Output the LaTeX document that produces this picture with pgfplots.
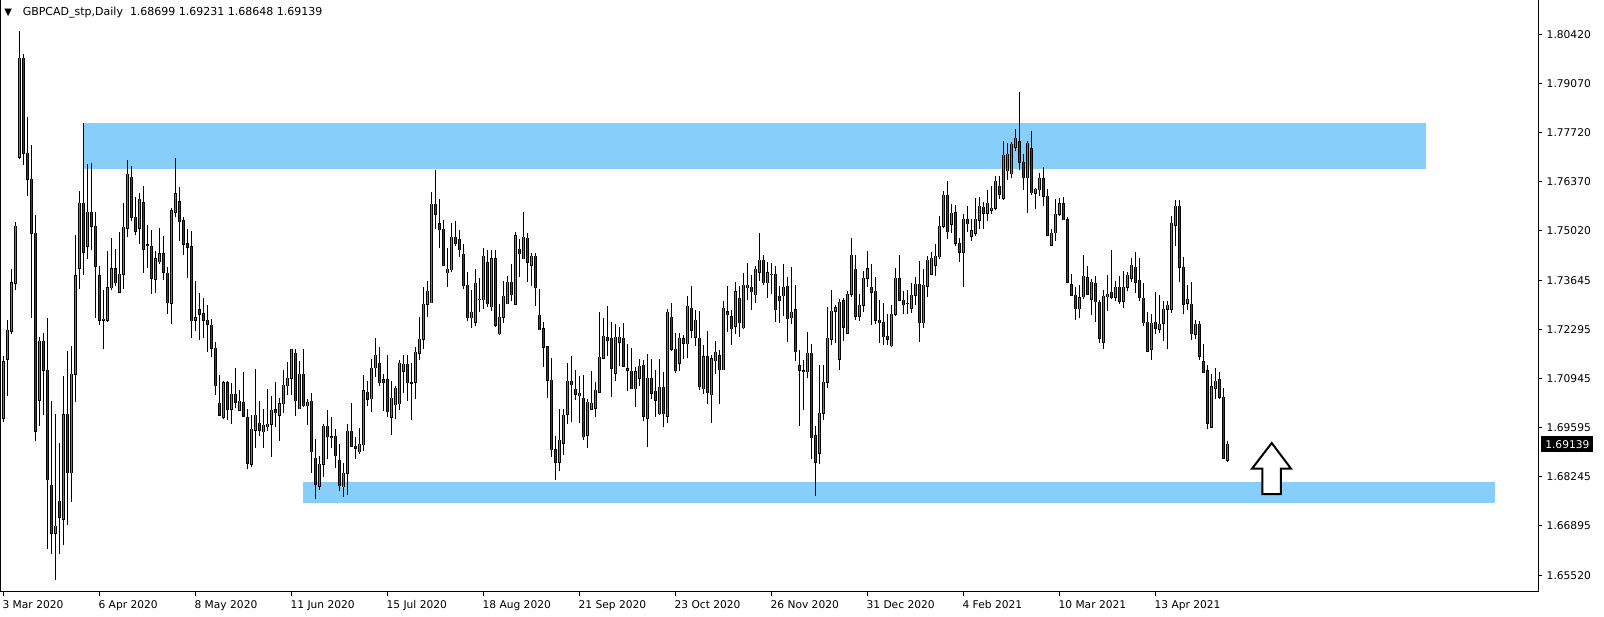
\documentclass[border=0pt]{standalone}
\usepackage{fontspec}
\setmainfont{DejaVu Sans}
\usepackage{pgfplots}
\usepackage{pgfplotstable}
\pgfplotsset{compat=1.18}
\definecolor{zoneblue}{RGB}{135,206,250}
\definecolor{bull}{RGB}{0,205,0}
\definecolor{bear}{RGB}{215,0,0}
\pgfplotstableread{
i o h l c
0 1.69862 1.71583 1.69764 1.71416
1 1.71485 1.72567 1.70482 1.72281
2 1.72252 1.73973 1.72173 1.73599
3 1.73580 1.75261 1.73403 1.75143
4 1.77051 1.80523 1.76992 1.79776
5 1.79776 1.79894 1.76845 1.77160
6 1.77160 1.78153 1.75989 1.76442
7 1.76442 1.77386 1.72616 1.74957
8 1.74957 1.75458 1.69223 1.69498
9 1.70354 1.72095 1.69646 1.71976
10 1.71976 1.72222 1.69960 1.71180
11 1.71180 1.72616 1.66272 1.68171
12 1.68013 1.70324 1.66125 1.66695
13 1.66695 1.69980 1.65407 1.66882
14 1.67570 1.69193 1.66125 1.67138
15 1.67089 1.71023 1.66371 1.69950
16 1.69970 1.71711 1.66931 1.68367
17 1.68367 1.71849 1.67551 1.71072
18 1.71072 1.74907 1.70305 1.73776
19 1.73993 1.76117 1.73432 1.75783
20 1.75783 1.77986 1.73815 1.74435
21 1.74593 1.76865 1.74258 1.75527
22 1.75527 1.76894 1.74484 1.75143
23 1.75143 1.75537 1.72635 1.74042
24 1.73776 1.74042 1.72419 1.72567
25 1.72567 1.73383 1.71760 1.72586
26 1.72567 1.74465 1.72517 1.73452
27 1.73452 1.74829 1.73383 1.73973
28 1.73973 1.74534 1.73501 1.73599
29 1.73334 1.74976 1.73320 1.73825
30 1.73825 1.75783 1.73432 1.75124
31 1.75094 1.76973 1.74848 1.76579
32 1.76501 1.76815 1.75301 1.75389
33 1.75389 1.75940 1.74897 1.75006
34 1.75094 1.76058 1.74661 1.75891
35 1.75788 1.76256 1.73870 1.74512
36 1.74640 1.75182 1.74007 1.74620
37 1.74595 1.75045 1.73291 1.73714
38 1.73686 1.74466 1.73319 1.74246
39 1.74173 1.75091 1.74099 1.74384
40 1.74384 1.74870 1.73668 1.73879
41 1.73851 1.74026 1.72741 1.73044
42 1.73025 1.75641 1.72465 1.75568
43 1.75531 1.77027 1.75393 1.76036
44 1.75816 1.76229 1.74751 1.75274
45 1.75292 1.75393 1.74365 1.74650
46 1.74659 1.75072 1.73732 1.74567
47 1.74577 1.75017 1.72080 1.72548
48 1.72557 1.73640 1.72273 1.72621
49 1.72842 1.73310 1.72025 1.72722
50 1.72732 1.73172 1.72080 1.72557
51 1.72557 1.72979 1.71694 1.72447
52 1.72419 1.72594 1.71538 1.71786
53 1.71786 1.71970 1.70510 1.70758
54 1.70272 1.71043 1.69930 1.69941
55 1.69886 1.70887 1.69849 1.70832
56 1.70832 1.70887 1.69822 1.70106
57 1.70106 1.70832 1.69712 1.70519
58 1.70519 1.71235 1.70152 1.70308
59 1.70079 1.70639 1.70051 1.70327
60 1.70299 1.71134 1.69886 1.69914
61 1.69868 1.70106 1.68454 1.68619
62 1.68592 1.69941 1.68509 1.69556
63 1.69537 1.71217 1.69051 1.69941
64 1.69721 1.70327 1.69381 1.69537
65 1.69491 1.70106 1.69051 1.69666
66 1.69629 1.70666 1.69519 1.69693
67 1.69693 1.70474 1.68803 1.70079
68 1.70088 1.70850 1.69629 1.70015
69 1.69942 1.70410 1.69244 1.70254
70 1.70263 1.71190 1.70015 1.70768
71 1.70758 1.71410 1.70501 1.70960
72 1.70960 1.71770 1.70501 1.71759
73 1.71649 1.71759 1.69932 1.70345
74 1.70125 1.71438 1.70107 1.71071
75 1.71071 1.71759 1.70180 1.70208
76 1.70208 1.70382 1.69676 1.70299
77 1.70327 1.70556 1.68363 1.68941
78 1.68757 1.69290 1.67629 1.68041
79 1.67986 1.68822 1.67885 1.68592
80 1.68592 1.69703 1.68253 1.69639
81 1.69639 1.70079 1.68739 1.69354
82 1.69354 1.69896 1.69051 1.69340
83 1.69363 1.69565 1.68500 1.68831
84 1.68702 1.69152 1.67867 1.68005
85 1.67977 1.68638 1.67702 1.68344
86 1.68344 1.69694 1.67748 1.69501
87 1.69501 1.70281 1.69079 1.69097
88 1.69088 1.69336 1.68748 1.69033
89 1.68941 1.69584 1.68877 1.69143
90 1.69134 1.71052 1.68969 1.70612
91 1.70575 1.70887 1.70199 1.70382
92 1.70400 1.71493 1.70043 1.71236
93 1.71254 1.72071 1.71006 1.71594
94 1.71373 1.71823 1.70758 1.70841
95 1.70914 1.71080 1.70070 1.70841
96 1.70914 1.71594 1.69905 1.70043
97 1.69886 1.70878 1.69409 1.70410
98 1.70235 1.70740 1.69850 1.70685
99 1.70263 1.71465 1.70098 1.71373
100 1.71153 1.71603 1.70566 1.71346
101 1.71346 1.71603 1.70345 1.70841
102 1.70850 1.71373 1.69812 1.70822
103 1.70850 1.71814 1.70391 1.71676
104 1.71648 1.72649 1.71465 1.72034
105 1.72034 1.73475 1.71768 1.72998
106 1.72998 1.73640 1.72649 1.73356
107 1.73043 1.76082 1.73030 1.75751
108 1.75751 1.76700 1.75081 1.75476
109 1.75210 1.75898 1.74549 1.75054
110 1.75063 1.75320 1.74050 1.74062
111 1.73870 1.74540 1.73484 1.73961
112 1.73952 1.75237 1.73897 1.74843
113 1.74843 1.75283 1.74604 1.74668
114 1.74788 1.75035 1.74301 1.74503
115 1.74374 1.74650 1.73420 1.73512
116 1.73521 1.73888 1.72529 1.72630
117 1.72630 1.73392 1.72355 1.72777
118 1.72502 1.73971 1.72410 1.73576
119 1.73126 1.73714 1.72786 1.73140
120 1.73126 1.74540 1.72860 1.74319
121 1.74136 1.74485 1.72924 1.73016
122 1.72933 1.74494 1.72805 1.74246
123 1.74246 1.74485 1.72373 1.72429
124 1.72190 1.72998 1.72162 1.72640
125 1.72640 1.73631 1.72493 1.73218
126 1.73016 1.73787 1.72998 1.73603
127 1.73603 1.74108 1.73080 1.73264
128 1.73007 1.74989 1.72998 1.74879
129 1.74512 1.74806 1.73759 1.74393
130 1.74255 1.75540 1.74237 1.74843
131 1.74815 1.74971 1.73613 1.74154
132 1.74072 1.74402 1.73502 1.74319
133 1.74319 1.74402 1.72961 1.73457
134 1.72695 1.73429 1.72290 1.72300
135 1.72328 1.72520 1.71281 1.71814
136 1.71823 1.71850 1.70428 1.70905
137 1.70905 1.71529 1.68800 1.69000
138 1.69000 1.69381 1.68160 1.68650
139 1.68650 1.70116 1.68400 1.69253
140 1.69170 1.70116 1.68850 1.69941
141 1.69969 1.71382 1.69693 1.70877
142 1.70877 1.71566 1.69748 1.70786
143 1.70657 1.71190 1.70354 1.70519
144 1.70483 1.71015 1.69739 1.70547
145 1.70409 1.71043 1.69253 1.69354
146 1.69390 1.70400 1.69032 1.70299
147 1.70106 1.71162 1.70079 1.70272
148 1.70134 1.70850 1.69886 1.70630
149 1.70584 1.72787 1.70565 1.71538
150 1.71520 1.72621 1.71492 1.72117
151 1.72071 1.72952 1.71575 1.71997
152 1.72062 1.72502 1.70455 1.71236
153 1.71098 1.72456 1.70896 1.72089
154 1.71951 1.72374 1.71300 1.72089
155 1.72062 1.72484 1.71272 1.71300
156 1.71217 1.71915 1.70620 1.71180
157 1.71153 1.71786 1.70657 1.70676
158 1.70676 1.71281 1.70180 1.71134
159 1.70960 1.71492 1.70758 1.71291
160 1.71318 1.71465 1.69794 1.69914
161 1.69859 1.71630 1.69060 1.70960
162 1.70960 1.71492 1.70391 1.70547
163 1.70602 1.71190 1.69904 1.70354
164 1.69987 1.71492 1.69950 1.70712
165 1.70712 1.71125 1.69611 1.69987
166 1.69923 1.72860 1.69721 1.72778
167 1.72640 1.73035 1.71722 1.71759
168 1.71759 1.72218 1.71116 1.71171
169 1.71373 1.72218 1.71171 1.72062
170 1.72044 1.72150 1.71493 1.71924
171 1.71915 1.73228 1.71530 1.72943
172 1.72888 1.73503 1.72080 1.72282
173 1.72090 1.72842 1.71860 1.72558
174 1.72062 1.72815 1.70639 1.70731
175 1.70676 1.71878 1.70538 1.71548
176 1.71548 1.72264 1.70254 1.70566
177 1.70511 1.71603 1.69740 1.71493
178 1.71447 1.71989 1.71089 1.71677
179 1.71576 1.71741 1.70254 1.71199
180 1.71199 1.73090 1.71190 1.72888
181 1.72787 1.73503 1.72246 1.72714
182 1.72650 1.72842 1.71888 1.72328
183 1.72393 1.73613 1.72191 1.73338
184 1.73164 1.73503 1.72108 1.72493
185 1.72356 1.73852 1.72319 1.73522
186 1.73457 1.74137 1.73127 1.73522
187 1.73466 1.73797 1.72842 1.73347
188 1.73265 1.74054 1.73035 1.73962
189 1.73889 1.74963 1.73632 1.74210
190 1.74210 1.74348 1.73522 1.73595
191 1.73595 1.74173 1.73182 1.73861
192 1.73824 1.74127 1.73283 1.73830
193 1.73824 1.74054 1.72521 1.72851
194 1.73219 1.73512 1.72493 1.73099
195 1.73237 1.74109 1.72677 1.73466
196 1.73494 1.73751 1.71970 1.72604
197 1.72631 1.74026 1.72448 1.72778
198 1.72842 1.73531 1.71447 1.71695
199 1.71300 1.71741 1.69657 1.71181
200 1.71163 1.71465 1.70089 1.71150
201 1.71144 1.72236 1.70961 1.71649
202 1.71649 1.71906 1.68730 1.69327
203 1.69373 1.69648 1.67720 1.68647
204 1.68900 1.71327 1.68600 1.70000
205 1.70000 1.71327 1.69800 1.70850
206 1.70850 1.72934 1.70700 1.72062
207 1.72034 1.73393 1.71878 1.72805
208 1.72805 1.72979 1.71924 1.72897
209 1.71483 1.73136 1.71190 1.73053
210 1.73090 1.73163 1.71997 1.72365
211 1.72199 1.73374 1.72190 1.73273
212 1.73273 1.74815 1.73209 1.74347
213 1.73962 1.74356 1.72557 1.72667
214 1.72667 1.73282 1.72548 1.72970
215 1.72970 1.73925 1.72796 1.73714
216 1.73714 1.74466 1.73466 1.73971
217 1.73466 1.74099 1.72438 1.73328
218 1.73356 1.73760 1.72465 1.72557
219 1.72557 1.73117 1.71942 1.72493
220 1.72502 1.73025 1.71869 1.72107
221 1.72117 1.72732 1.71869 1.72043
222 1.71860 1.72979 1.71832 1.72722
223 1.72722 1.73989 1.72686 1.73714
224 1.73695 1.74356 1.73099 1.73117
225 1.73108 1.73365 1.72741 1.72989
226 1.73025 1.73393 1.72741 1.73020
227 1.72888 1.73576 1.72768 1.73246
228 1.73246 1.73760 1.72979 1.73549
229 1.73549 1.74200 1.71970 1.72493
230 1.72493 1.73962 1.72346 1.73521
231 1.73494 1.74329 1.73209 1.74209
232 1.73824 1.74448 1.73796 1.74265
233 1.74081 1.74659 1.73778 1.74320
234 1.74310 1.75430 1.74237 1.75146
235 1.75146 1.76128 1.75091 1.75999
236 1.75999 1.76394 1.74788 1.74999
237 1.75201 1.75761 1.74953 1.75504
238 1.75522 1.75733 1.74613 1.74677
239 1.74677 1.74815 1.74172 1.74429
240 1.74429 1.75476 1.73484 1.75338
241 1.75338 1.75696 1.74989 1.75219
242 1.74870 1.75338 1.74751 1.75017
243 1.74953 1.75926 1.74888 1.75338
244 1.75311 1.75944 1.75072 1.75696
245 1.75669 1.75806 1.75081 1.75503
246 1.75503 1.76146 1.75301 1.75779
247 1.75586 1.76247 1.75476 1.75641
248 1.75641 1.76522 1.75595 1.76385
249 1.76247 1.76522 1.75898 1.76027
250 1.75916 1.77495 1.75871 1.77101
251 1.76678 1.77431 1.76430 1.77128
252 1.76596 1.77468 1.76467 1.77403
253 1.77321 1.77826 1.77211 1.77569
254 1.77468 1.78835 1.76697 1.76908
255 1.76908 1.77137 1.76155 1.76486
256 1.76486 1.77504 1.75503 1.77431
257 1.77275 1.77771 1.76008 1.76072
258 1.76054 1.76210 1.75614 1.76164
259 1.76155 1.76614 1.75981 1.76467
260 1.76467 1.76770 1.75714 1.75972
261 1.75972 1.76183 1.74879 1.74898
262 1.74622 1.75063 1.74610 1.74953
263 1.74971 1.75907 1.74732 1.75476
264 1.75485 1.75926 1.75439 1.75760
265 1.75760 1.75944 1.75320 1.75329
266 1.75320 1.75412 1.73576 1.73603
267 1.73530 1.73824 1.73227 1.73245
268 1.73245 1.73466 1.72575 1.72878
269 1.72878 1.73521 1.72612 1.73172
270 1.73209 1.74347 1.73154 1.73769
271 1.73723 1.74053 1.73245 1.73282
272 1.73136 1.73696 1.72714 1.73604
273 1.73577 1.73769 1.72521 1.73072
274 1.73053 1.73118 1.71943 1.72062
275 1.71952 1.73393 1.71777 1.73219
276 1.73209 1.73806 1.72824 1.73274
277 1.73329 1.74494 1.73136 1.73191
278 1.73191 1.73641 1.73099 1.73466
279 1.73466 1.73769 1.73017 1.73081
280 1.73081 1.73916 1.72906 1.73466
281 1.73466 1.73898 1.73356 1.73797
282 1.73714 1.74274 1.73622 1.74072
283 1.74017 1.74439 1.73319 1.73604
284 1.73659 1.74274 1.73099 1.73191
285 1.73163 1.73577 1.72411 1.72493
286 1.72503 1.72778 1.71690 1.71704
287 1.71759 1.72723 1.71456 1.72475
288 1.72503 1.73338 1.72190 1.72337
289 1.72310 1.73246 1.72218 1.72447
290 1.72475 1.73081 1.71979 1.72861
291 1.72861 1.73090 1.71759 1.72971
292 1.72861 1.75431 1.72769 1.75229
293 1.75174 1.75871 1.74614 1.75697
294 1.75697 1.75871 1.73604 1.74017
295 1.74017 1.74302 1.72723 1.72998
296 1.73026 1.73531 1.72851 1.73136
297 1.72998 1.73613 1.72007 1.72190
298 1.72172 1.72567 1.72053 1.72447
299 1.72447 1.72530 1.71456 1.71566
300 1.71419 1.71906 1.71116 1.71126
301 1.71172 1.71318 1.69556 1.69721
302 1.69611 1.71080 1.69584 1.70731
303 1.70685 1.71245 1.70401 1.70878
304 1.70933 1.71135 1.70401 1.70437
305 1.70437 1.70694 1.68740 1.68758
306 1.68699 1.69231 1.68648 1.69139
}\candles
\begin{document}
\begin{tikzpicture}
\path[use as bounding box] (0,0) rectangle (1203pt,462.75pt);
\begin{axis}[
  at={(0pt,462.75pt)}, anchor=north west,
  scale only axis, width=1153.5pt, height=444pt,
  xmin=-0.825, xmax=383.675, ymin=1.65077, ymax=1.81378,
  clip=false,
  axis line style={black, line width=0.75pt},
  xtick={0,24,...,288},
  xticklabels={3 Mar 2020,6 Apr 2020,8 May 2020,11 Jun 2020,15 Jul 2020,18 Aug 2020,21 Sep 2020,23 Oct 2020,26 Nov 2020,31 Dec 2020,4 Feb 2021,10 Mar 2021,13 Apr 2021},
  xtick pos=left, ytick pos=right,
  ytick={1.65520,1.66895,1.68245,1.69595,1.70945,1.72295,1.73645,1.75020,1.76370,1.77720,1.79070,1.80420},
  yticklabels={1.65520,1.66895,1.68245,1.69595,1.70945,1.72295,1.73645,1.75020,1.76370,1.77720,1.79070,1.80420},
  tick align=outside,
  major tick length=3pt,
  every tick/.style={black, line width=0.75pt},
  tick label style={font=\fontsize{8}{9.6}\selectfont, text=black},
  xticklabel style={anchor=north west, inner xsep=0pt, xshift=-0.75pt},
  yticklabel style={anchor=west},
]
% zones
\addplot[draw=none, fill=zoneblue] coordinates {(19.9,1.76733) (355.7,1.76733) (355.7,1.77997) (19.9,1.77997)} -- cycle;
\addplot[draw=none, fill=zoneblue] coordinates {(74.9,1.67527) (372.8,1.67527) (372.8,1.68105) (74.9,1.68105)} -- cycle;
% wicks
\addplot[draw=none, mark=none, error bars/.cd, y dir=plus, y explicit, error mark=none,
  error bar style={draw=black, line width=0.75pt}]
  table[x=i, y=l, y error plus expr=\thisrow{h}-\thisrow{l}] {\candles};
% bull bodies
\addplot[draw=none, mark=none, error bars/.cd, y dir=plus, y explicit, error mark=none,
  error bar style={draw=black, line width=2.6pt, shorten <=-0.45pt, shorten >=-0.45pt}]
  table[x=i, y expr={\thisrow{c}>=\thisrow{o} ? \thisrow{o} : nan}, y error plus expr=\thisrow{c}-\thisrow{o}] {\candles};
\addplot[draw=none, mark=none, error bars/.cd, y dir=plus, y explicit, error mark=none,
  error bar style={draw=bull, line width=1.1pt}]
  table[x=i, y expr={\thisrow{c}>=\thisrow{o} ? \thisrow{o} : nan}, y error plus expr=\thisrow{c}-\thisrow{o}] {\candles};
% bear bodies
\addplot[draw=none, mark=none, error bars/.cd, y dir=plus, y explicit, error mark=none,
  error bar style={draw=black, line width=2.6pt, shorten <=-0.45pt, shorten >=-0.45pt}]
  table[x=i, y expr={\thisrow{c}<\thisrow{o} ? \thisrow{c} : nan}, y error plus expr=\thisrow{o}-\thisrow{c}] {\candles};
\addplot[draw=none, mark=none, error bars/.cd, y dir=plus, y explicit, error mark=none,
  error bar style={draw=bear, line width=1.1pt}]
  table[x=i, y expr={\thisrow{c}<\thisrow{o} ? \thisrow{c} : nan}, y error plus expr=\thisrow{o}-\thisrow{c}] {\candles};
% arrow
\addplot[draw=black, fill=white, line width=1.5pt, line join=miter] coordinates {(317.1,1.69179) (321.9,1.68477) (319.4,1.68477) (319.4,1.67775) (314.75,1.67775) (314.75,1.68477) (312.2,1.68477)} -- cycle;
% texts
\node[anchor=west, inner sep=0pt, font=\fontsize{7.5}{8}\selectfont] at (axis description cs:0.0026,0.9789) {▼};
\node[anchor=west, inner sep=0pt, font=\fontsize{8.25}{9.6}\selectfont] at (axis description cs:0.01463,0.9789) {GBPCAD\_stp,Daily\ \ 1.68699 1.69231 1.68648 1.69139};
\node[anchor=west, fill=black, text=white, inner xsep=3pt, inner ysep=1.5pt, minimum height=12pt, font=\fontsize{8}{9.6}\selectfont, xshift=2.25pt] at (axis cs:383.675,1.69139) {1.69139};
\end{axis}
\end{tikzpicture}
\end{document}
